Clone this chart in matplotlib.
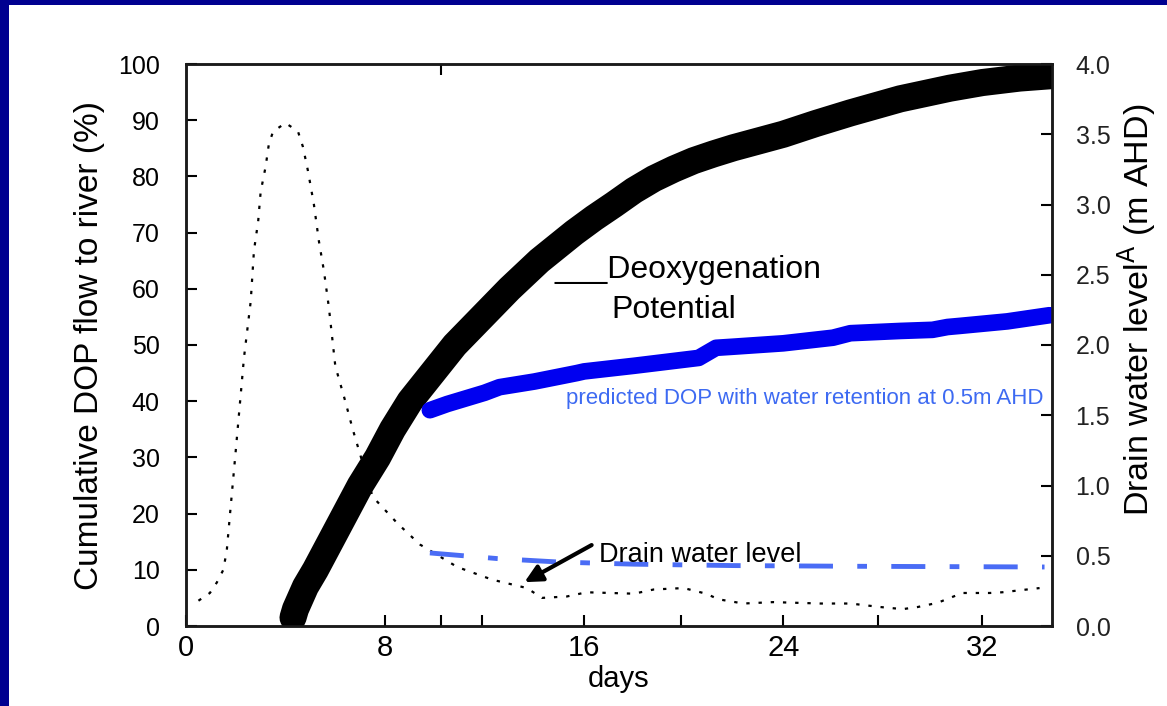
import matplotlib
matplotlib.use("Agg")
from matplotlib import pyplot as plt
from matplotlib.patches import Rectangle
import numpy as np

plt.rcParams['font.family'] = ['Liberation Sans', 'DejaVu Sans']

# cumulative deoxygenation potential (DOP) flow to river, %
dop_days = [4.3, 4.4, 4.8, 5.2, 5.8, 6.4, 7.0, 7.7, 8.3, 9.0, 9.9, 10.8, 11.9, 13.0,
            14.2, 15.6, 16.4, 17.2, 18.0, 18.8, 19.6, 20.4, 21.2, 22.0, 23.0, 24.0,
            25.3, 26.7, 28.7, 30.7, 32.0, 33.5, 34.7]
dop_pct = [1.5, 3, 7, 10, 15, 20, 25, 30, 35, 40, 45, 50, 55, 60,
           65, 70, 72.6, 75, 77.5, 79.6, 81.3, 82.8, 84.0, 85.1, 86.3, 87.5,
           89.4, 91.3, 93.8, 95.7, 96.7, 97.5, 97.9]

# predicted DOP with water retention at 0.5 m AHD, %
ret_days = [9.8, 10.5, 12.0, 12.6, 14.0, 15.7, 16.0, 18.0, 20.6, 21.3, 22.0, 24.0,
            26.0, 26.7, 28.7, 30.0, 30.6, 31.1, 33.0, 34.7]
ret_pct = [38.4, 39.5, 41.5, 42.5, 43.5, 45, 45.3, 46.3, 47.7, 49.5, 49.7, 50.3,
           51.3, 52.1, 52.5, 52.7, 53.2, 53.4, 54.2, 55.3]

# drain water level, m AHD
lvl_days = [0.5, 0.96, 1.24, 1.5, 1.64, 1.77, 2.0, 2.33, 2.6, 2.73, 2.9, 3.0, 3.2,
            3.33, 3.5, 4.0, 4.5, 4.7, 4.9, 5.14, 5.34, 5.54, 5.74, 6.0, 6.4, 6.7,
            7.2, 7.5, 8.5, 9.4, 10.9, 12.3, 13.7, 14.3, 15.3, 16.1, 18.0, 18.8,
            20.0, 20.9, 21.4, 22.4, 23.6, 25.5, 26.7, 27.9, 28.8, 29.4, 30.2,
            30.7, 31.2, 32.3, 32.8, 34.3]
lvl_m = [0.18, 0.235, 0.31, 0.40, 0.54, 0.80, 1.25, 1.91, 2.31, 2.67, 2.88, 3.09, 3.27,
         3.43, 3.52, 3.58, 3.52, 3.41, 3.24, 3.0, 2.74, 2.53, 2.27, 1.85, 1.6, 1.4,
         1.1, 0.92, 0.73, 0.58, 0.42, 0.33, 0.27, 0.20, 0.21, 0.24, 0.23, 0.26,
         0.27, 0.23, 0.19, 0.16, 0.17, 0.16, 0.16, 0.135, 0.12, 0.135, 0.165,
         0.20, 0.235, 0.235, 0.24, 0.27]

# retained drain water level, m AHD
hold_days = [9.8, 12.5, 15.0, 18.0, 22.0, 27.0, 34.5]
hold_m = [0.52, 0.48, 0.455, 0.44, 0.43, 0.425, 0.42]

x_major = [0, 8, 16, 24, 32]
x_minor = [10.25, 11.9, 19.9, 27.8]

fig = plt.figure(figsize=(11.67, 7.06), dpi=100, facecolor='#000090')
fig.add_artist(Rectangle((9 / 1167, 0), 1, 1 - 5 / 706, transform=fig.transFigure,
                         facecolor='white', edgecolor='none', zorder=-10))

ax = fig.add_axes([186 / 1167, 1 - 626 / 706, (1052 - 186) / 1167, (626 - 64) / 706])
ax2 = ax.twinx()
ax.set_zorder(ax2.get_zorder() + 1)
ax.patch.set_visible(False)

ax2.plot(lvl_days, lvl_m, color='black', lw=1.6, ls=(0, (1.5, 4)))
ax2.plot(hold_days, hold_m, color='#4a6cf5', lw=3.5, ls=(0, (7, 5, 2, 5)))

ax.plot(dop_days, dop_pct, color='black', lw=19.5, solid_capstyle='round',
        solid_joinstyle='round')
ax.plot(ret_days, ret_pct, color='#0000f0', lw=12, solid_capstyle='round',
        solid_joinstyle='round')

ax.set_xlim(0, 34.8)
ax.set_ylim(0, 100)
ax2.set_ylim(0, 4.0)

ax.set_xticks(x_major)
ax.set_xticks(x_minor, minor=True)
ax.set_yticks(np.arange(0, 101, 10))
ax2.set_yticks(np.arange(0, 4.01, 0.5))
ax2.set_yticklabels([f'{v:.1f}' for v in np.arange(0, 4.01, 0.5)])

ax.tick_params(axis='x', which='both', direction='in', length=8, width=1.5,
               labelsize=21, pad=6)
ax.tick_params(axis='y', direction='in', length=8, width=1.5, labelsize=18, pad=19)
ax2.tick_params(axis='y', direction='in', length=8, width=1.5, labelsize=18,
                pad=17, labelcolor='#222222')

top = ax.secondary_xaxis('top')
top.set_xticks([10.25])
top.tick_params(direction='in', length=8, width=1.5, labeltop=False)

for a in (ax, ax2):
    for s in a.spines.values():
        s.set_linewidth(1.8)
        s.set_color('#1a1a1a')
top.spines['top'].set_visible(False)

ax.set_xlabel('days', fontsize=21, labelpad=2)
ax.set_ylabel('Cumulative DOP flow to river (%)', fontsize=24, labelpad=9)
ax2.set_ylabel(r'Drain water level$^{\mathrm{A}}$ (m AHD)', fontsize=24.5)
ax2.yaxis.set_label_coords(1.073, 0.562)

ax.text(14.8, 63.3, '___Deoxygenation', fontsize=23, ha='left', va='center')
ax.text(17.1, 56.2, 'Potential', fontsize=23, ha='left', va='center')
ax.text(15.26, 40.4, 'predicted DOP with water retention at 0.5m AHD',
        fontsize=16, color='#3d6af2', ha='left', va='center')
ax.text(16.6, 12.6, 'Drain water level', fontsize=19.5, ha='left', va='center')
ax.annotate('', xy=(13.6, 7.8), xytext=(16.3, 14.4),
            arrowprops=dict(arrowstyle='-|>', color='black', lw=3,
                            mutation_scale=26, shrinkA=0, shrinkB=0))

fig.savefig('out.png', dpi=100, facecolor=fig.get_facecolor())
